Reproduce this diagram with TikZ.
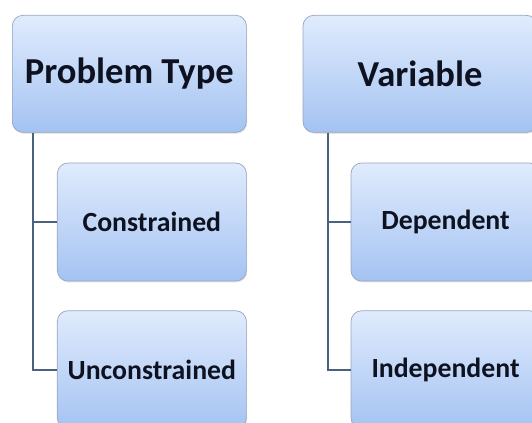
\documentclass[tikz,border=0pt]{standalone}
\usepackage{fontspec}
\setmainfont{Carlito}
\usepackage{tikz}
\usetikzlibrary{positioning, shadows}
\definecolor{boxtop}{RGB}{224,235,253}
\definecolor{boxbottom}{RGB}{164,195,242}
\definecolor{boxline}{RGB}{150,165,190}
\definecolor{linkblue}{RGB}{74,98,128}
\definecolor{ink}{RGB}{14,18,32}

\begin{document}
\begin{tikzpicture}[
  head/.style={rectangle, rounded corners=6pt, draw=boxline, top color=boxtop, bottom color=boxbottom,
              minimum width=4.68cm, minimum height=2.34cm, text=ink, font=\fontsize{20.8}{24}\selectfont\bfseries,
              drop shadow={shadow xshift=0.5pt, shadow yshift=-0.8pt, opacity=0.2}},
  kid/.style={rectangle, rounded corners=6pt, draw=boxline, top color=boxtop, bottom color=boxbottom,
              minimum width=3.78cm, minimum height=2.36cm, text=ink, font=\fontsize{15.8}{18}\selectfont\bfseries,
              drop shadow={shadow xshift=0.5pt, shadow yshift=-0.8pt, opacity=0.2}},
  link/.style={line width=1.2pt, linkblue}
]
\clip (0,0) rectangle (10.64,-8.46);
\node[head, anchor=north west] (ptype) at (0.24,-0.3) {Problem Type};
\node[kid, below right=0.6cm and 0.9cm of ptype.south west] (constr) {Constrained};
\node[kid, below=0.58cm of constr] (unconstr) {Unconstrained};

\node[head, right=1.12cm of ptype] (var) {Variable};
\node[kid, below right=0.6cm and 0.96cm of var.south west] (dep) {Dependent};
\node[kid, below=0.58cm of dep] (indep) {Independent};

\draw[link] ([xshift=0.42cm]ptype.south west) |- (constr.west);
\draw[link] ([xshift=0.42cm]ptype.south west) |- (unconstr.west);
\draw[link] ([xshift=0.5cm]var.south west) |- (dep.west);
\draw[link] ([xshift=0.5cm]var.south west) |- (indep.west);
\end{tikzpicture}
\end{document}
